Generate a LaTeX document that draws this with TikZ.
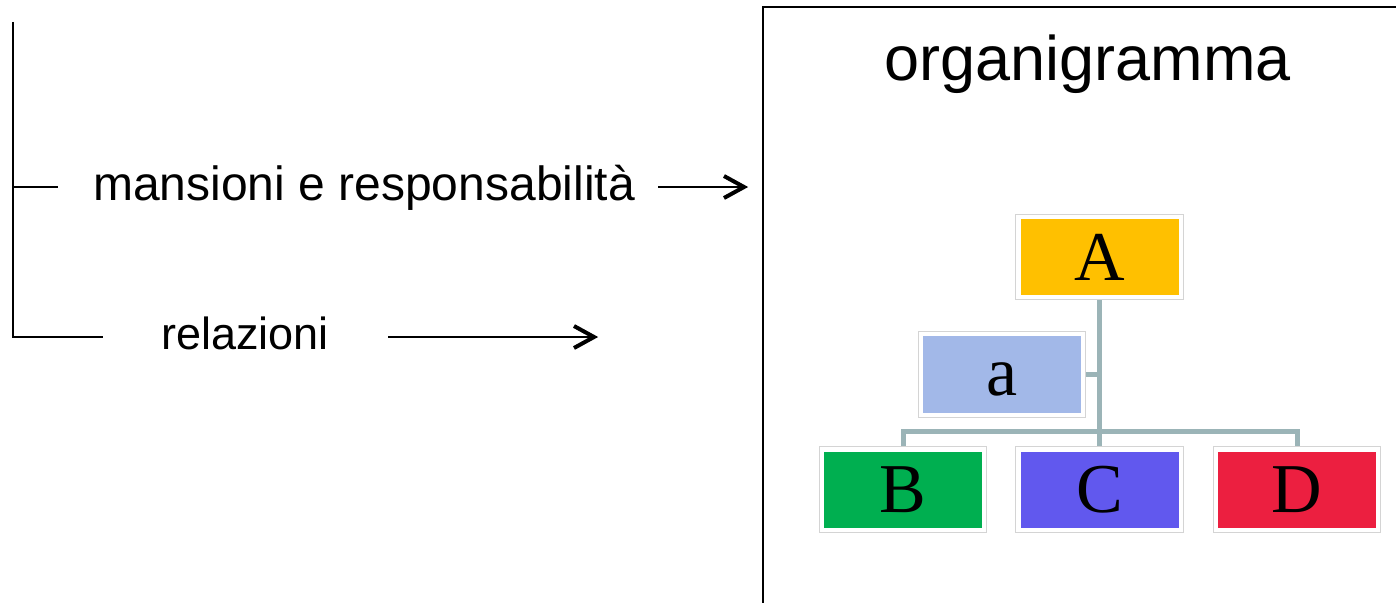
\documentclass[tikz,border=0pt]{standalone}
\usepackage{fontspec}
\setmainfont{Liberation Sans}
\newfontfamily\serifletters{Liberation Serif}
\usetikzlibrary{fit}
\definecolor{frameGray}{HTML}{D4D4D4}
\definecolor{connGray}{HTML}{9BB4B7}
\definecolor{colA}{HTML}{FFC000}
\definecolor{cola}{HTML}{A2B8E8}
\definecolor{colB}{HTML}{00AF50}
\definecolor{colC}{HTML}{6158EE}
\definecolor{colD}{HTML}{EC1F40}
\begin{document}
\begin{tikzpicture}[x=1pt,y=-1pt,
  txt/.style={inner sep=0pt, anchor=base west},
  orgbox/.style={minimum width=158pt, minimum height=76pt, inner sep=0pt,
    font=\serifletters\fontsize{70}{84}\selectfont},
  frame/.style={draw=frameGray, line width=1pt, inner sep=4.5pt},
  conn/.style={draw=connGray, line width=5pt},
  bracket/.style={line width=2pt},
  shaft/.style={line width=2pt},
  chevron/.style={line width=4pt, line join=miter}]
\useasboundingbox (0,0) rectangle (1396,602);

% left bracket
\coordinate (bt) at (13,22);
\coordinate (bb) at (13,337);
\coordinate (bm) at (13,187);
\coordinate (bme) at (58,187);
\coordinate (bbe) at (103,337);
\draw[bracket] (bt) -- (bb) -- (bbe);
\draw[bracket] (bm) -- (bme);

% labels
\node[txt, font=\fontsize{48}{58}\selectfont] (mans) at (93,200) {mansioni e responsabilità};
\node[txt, font=\fontsize{45}{54}\selectfont] (rel) at (161,349) {relazioni};

% arrows
\coordinate (p1s) at (658,187);
\coordinate (p1e) at (744,187);
\coordinate (p2s) at (388,337);
\coordinate (p2e) at (594,337);
\draw[shaft] (p1s) -- (p1e);
\draw[chevron] (p1e) ++(-20,-11) -- ++(20,11) -- ++(-20,11);
\draw[shaft] (p2s) -- (p2e);
\draw[chevron] (p2e) ++(-20,-11) -- ++(20,11) -- ++(-20,11);

% right frame
\coordinate (ftr) at (1400,7);
\coordinate (ftl) at (763,7);
\coordinate (fbl) at (763,606);
\draw[line width=2pt] (ftr) -- (ftl) -- (fbl);

\node[inner sep=0pt, anchor=base, font=\fontsize{63}{76}\selectfont] (title) at (1087.5,80) {organigramma};

% org chart boxes
\node[orgbox, fill=colA] (A) at (1099.5,257) {A};
\node[orgbox, fill=cola, minimum height=77pt] (a) at (1002,374.5) {\raisebox{-5pt}[\height][\depth]{a}};
\node[orgbox, fill=colB] (B) at (903,489.5) {B};
\node[orgbox, fill=colC] (C) at (1099.5,489.5) {C};
\node[orgbox, fill=colD] (D) at (1297,489.5) {D};

\node[frame, fit=(A)] (fA) {};
\node[frame, fit=(a)] (fa) {};
\node[frame, fit=(B)] (fB) {};
\node[frame, fit=(C)] (fC) {};
\node[frame, fit=(D)] (fD) {};

% connectors
\coordinate (bar) at (1099.5,431);
\draw[conn] (fA.south) -- (fC.north);
\draw[conn] (fB.north) -- (fB.north |- bar) -- (fD.north |- bar) -- (fD.north);
\draw[conn] (fa.east) -- (fa.east -| fA.south);
\end{tikzpicture}
\end{document}
